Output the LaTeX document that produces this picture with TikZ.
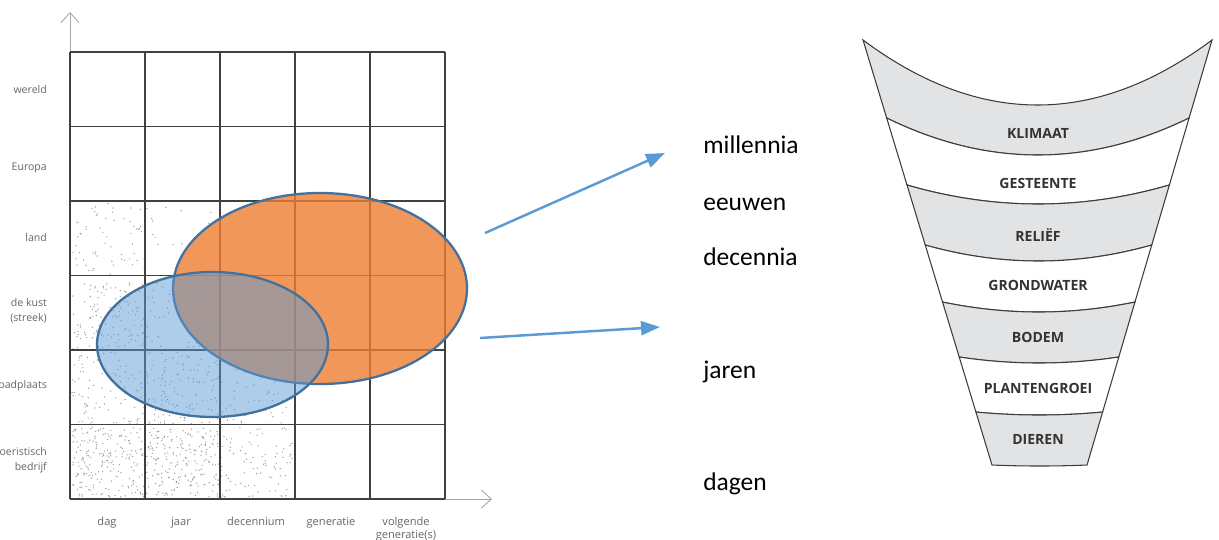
\documentclass[tikz,border=0pt]{standalone}
\usepackage{fontspec}
\setmainfont{Carlito}
\newfontfamily\labelfont{Open Sans}
\usepackage{xcolor}
\usetikzlibrary{arrows.meta, positioning, calc}

\definecolor{ovalorange}{HTML}{ED7D31}
\definecolor{ovalblue}{HTML}{5B9BD5}
\definecolor{ovalline}{HTML}{41719C}
\definecolor{bandgrey}{HTML}{E2E3E5}
\definecolor{funnelline}{HTML}{3C3C3C}

\begin{document}
\begin{tikzpicture}[
  x=0.02cm, y=-0.02cm,
  >={Triangle[length=0.38cm, width=0.28cm]},
  gridline/.style={black!75, line width=1pt},
  axisline/.style={black!35, line width=0.5pt, -{Straight Barb[length=0.2cm, width=0.36cm]}},
  rowlabel/.style={anchor=east, font=\labelfont\fontsize{6}{8.5}\selectfont, text=black!60, align=right},
  collabel/.style={anchor=north, font=\labelfont\fontsize{6.3}{7.5}\selectfont, text=black!60, align=center},
  timelabel/.style={anchor=base west, font=\fontsize{14.5}{17}\selectfont, inner sep=0pt},
  bandlabel/.style={font=\labelfont\bfseries\fontsize{8}{9}\selectfont, text=black!80},
  pointer/.style={->, ovalblue, line width=1.4pt},
]
  \useasboundingbox (0,0) rectangle (1219,539);

  % axes
  \coordinate (origin) at (70,499);
  \coordinate (ytop) at (70,12);
  \coordinate (xend) at (492,499);
  \draw[axisline] (origin) -- (ytop);
  \draw[axisline] (origin) -- (xend);

  % stippling
  \pgfmathsetseed{42}
  \foreach \xa/\ya/\xb/\yb/\n in {72/427/220/497/420, 220/427/292/497/90, 72/352/220/425/230,
      220/352/292/425/50, 72/278/145/350/130, 145/278/220/350/70, 72/203/145/276/60, 145/203/220/276/15} {
    \foreach \k in {1,...,\n} {
      \pgfmathsetmacro\px{\xa+rnd*(\xb-\xa)}
      \pgfmathsetmacro\py{\ya+rnd*(\yb-\ya)}
      \fill[black!40] (\px,\py) circle[radius=0.7];
    }
  }

  % grid
  \foreach \c in {0,...,5} {
    \draw[gridline] ({70+75*\c},52) -- ({70+75*\c},499);
  }
  \foreach \r in {0,...,6} {
    \draw[gridline] (70,{52+74.5*\r}) -- (445,{52+74.5*\r});
  }

  % row labels
  \foreach \y/\name/\lbl in {90/wereld/wereld, 168/europa/Europa, 238/land/land,
      311/kust/{de kust\\(streek)}, 386/badplaats/badplaats, 460/bedrijf/{toeristisch\\bedrijf}} {
    \node[rowlabel] (\name) at (53,\y) {\lbl};
  }

  % column labels
  \foreach \x/\name/\lbl in {107/dag/dag, 181/jaar/jaar, 256/decennium/decennium,
      331/generatie/generatie, 406/volgende/{volgende\\generatie(s)}} {
    \node[collabel] (\name) at (\x,511) {\lbl};
  }

  % ovals
  \fill[ovalorange, fill opacity=0.8] (320,288.5) ellipse[x radius=147, y radius=95.5];
  \draw[ovalline, line width=1.3pt] (320,288.5) ellipse[x radius=147, y radius=95.5];
  \fill[ovalblue, fill opacity=0.5] (212.5,344.5) ellipse[x radius=115.5, y radius=72.5];
  \draw[ovalline, line width=1.3pt] (212.5,344.5) ellipse[x radius=115.5, y radius=72.5];

  % pointers
  \coordinate (upper from) at (485,233);
  \coordinate (upper to) at (665,153);
  \coordinate (lower from) at (480,338);
  \coordinate (lower to) at (660,327);
  \draw[pointer] (upper from) -- (upper to);
  \draw[pointer] (lower from) -- (lower to);

  % time scales
  \foreach \y/\name in {153/millennia, 210/eeuwen, 265/decennia, 378/jaren, 490/dagen} {
    \node[timelabel] (\name) at (703,\y) {\name};
  }

  % funnel
  \foreach \ya/\ma/\yb/\mb/\shade/\name/\lbl/\ly in {
      40/105/118/155/bandgrey/klimaat/KLIMAAT/133,
      118/155/185/204/white/gesteente/GESTEENTE/183,
      185/204/245/261/bandgrey/relief/RELIËF/235,
      245/261/302/312/white/grondwater/GRONDWATER/285,
      302/312/357/363/bandgrey/bodem/BODEM/337,
      357/363/412/415/white/plantengroei/PLANTENGROEI/388,
      412/415/465/466/bandgrey/dieren/DIEREN/439} {
    \pgfmathsetmacro\xal{863+(\ya-40)*0.3035}
    \pgfmathsetmacro\xar{1212-(\ya-40)*0.2941}
    \pgfmathsetmacro\xbl{863+(\yb-40)*0.3035}
    \pgfmathsetmacro\xbr{1212-(\yb-40)*0.2941}
    \pgfmathsetmacro\ca{(4*\ma-\ya)/3}
    \pgfmathsetmacro\cb{(4*\mb-\yb)/3}
    \filldraw[fill=\shade, draw=funnelline, line width=0.6pt]
      (\xal,\ya) .. controls ({\xal+(\xar-\xal)/3},\ca) and ({\xal+2*(\xar-\xal)/3},\ca) .. (\xar,\ya)
      -- (\xbr,\yb) .. controls ({\xbl+2*(\xbr-\xbl)/3},\cb) and ({\xbl+(\xbr-\xbl)/3},\cb) .. (\xbl,\yb)
      -- cycle;
    \node[bandlabel] (\name) at (1038,\ly) {\lbl};
  }
\end{tikzpicture}
\end{document}
